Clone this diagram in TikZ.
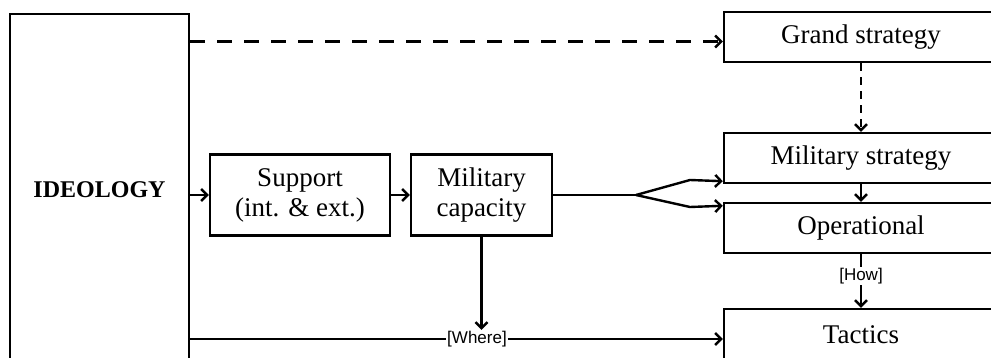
\documentclass[tikz,border=0pt]{standalone}
\usepackage{fontspec}
\setmainfont{Liberation Serif}
\setsansfont{Liberation Sans}
\usetikzlibrary{arrows.meta}

\begin{document}
\begin{tikzpicture}[x=1pt,y=-1pt,
  box/.style={draw,line width=2.4pt,rectangle,inner sep=0pt,align=center,font=\fontsize{27}{30}\selectfont},
  link/.style={line width=2.4pt,-{Straight Barb[length=6pt,width=12pt,line width=2.4pt]}},
  plain/.style={line width=2.4pt},
  tag/.style={fill=white,inner sep=1pt,font=\sffamily\fontsize{17}{18}\selectfont}]
\useasboundingbox (0,0) rectangle (991,358);
\clip (0,0) rectangle (991,358);
\node[box,minimum width=179pt,minimum height=352pt,font=\bfseries\fontsize{24}{28}\selectfont] (ideo) at (99.5,190) {IDEOLOGY};
\node[box,minimum width=180pt,minimum height=81pt] (support) at (300,195) {Support\\(int. \& ext.)};
\node[box,minimum width=141pt,minimum height=81pt] (milcap) at (481.5,195) {Military\\capacity};
\node[box,minimum width=274pt,minimum height=50pt] (grand) at (861,37) {Grand strategy};
\node[box,minimum width=274pt,minimum height=50pt] (milstrat) at (861,158) {Military strategy};
\node[box,minimum width=274pt,minimum height=50pt] (oper) at (861,228) {Operational};
\node[box,minimum width=274pt,minimum height=52pt] (tactics) at (861,335) {Tactics};
\node[tag] (how) at (861,276) {[How]};
\node[tag] (where) at (477,339) {[Where]};
\coordinate (split) at (636,195);
\coordinate (gin) at ([yshift=-4.5pt]grand.west);
\coordinate (mstin) at ([yshift=3pt]milstrat.south west);
\coordinate (opin) at ([yshift=-4pt]oper.north west);
\draw[link,dash pattern=on 15pt off 12pt] (ideo.east |- gin) -- (gin);
\draw[link,dash pattern=on 8pt off 6pt] (grand) -- (milstrat);
\draw[link] (milstrat) -- (oper);
\draw[plain] (oper) -- (how);
\draw[link] (how) -- (tactics);
\draw[link] (ideo.east |- support) -- (support);
\draw[link] (support) -- (milcap);
\draw[plain] (milcap) -- (split);
\draw[link] (split) -- ++(54,-15) -- (mstin);
\draw[link] (split) -- ++(54,12) -- (opin);
\draw[link] (milcap.south) -- (milcap.south |- where.north);
\draw[plain] (ideo.east |- where) -- (where);
\draw[link] (where) -- (tactics.west |- where);
\end{tikzpicture}
\end{document}
